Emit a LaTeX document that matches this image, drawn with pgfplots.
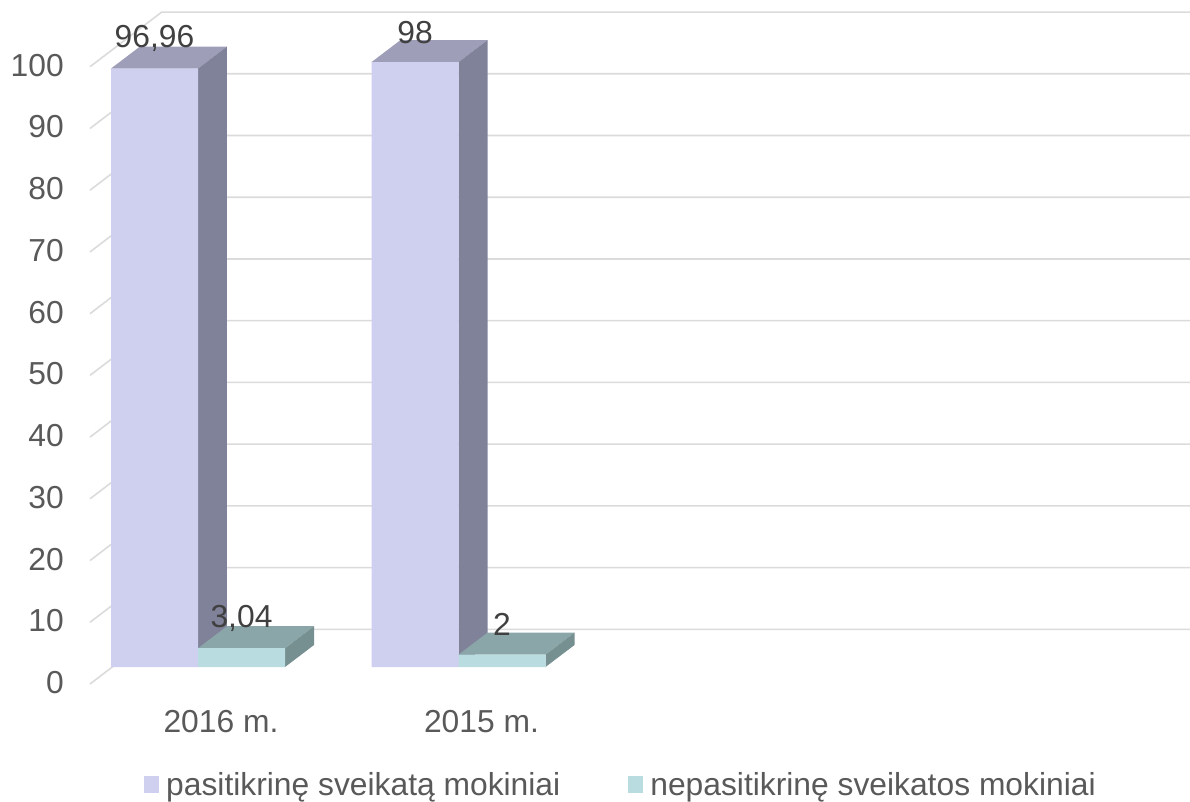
\documentclass[border=0pt]{standalone}
\usepackage{pgfplots}
\pgfplotsset{compat=1.18}
\usepackage{fontspec}
\setmainfont{Liberation Sans}

\definecolor{gridc}{HTML}{DBDBDB}
\definecolor{txt}{HTML}{595959}
\definecolor{lbl}{HTML}{404040}
\definecolor{vfront}{HTML}{CFD0F0}
\definecolor{vtop}{HTML}{9E9EB8}
\definecolor{vside}{HTML}{80829A}
\definecolor{tfront}{HTML}{B9DCE0}
\definecolor{ttop}{HTML}{8AA6A8}
\definecolor{tside}{HTML}{768F90}

\newcommand{\chartfont}{\fontsize{31.8}{36}\selectfont}

\begin{document}
\begin{tikzpicture}
  \path[use as bounding box] (0,0) rectangle (1190pt,801pt);
  \begin{axis}[
    at={(90pt,117pt)},
    anchor=south west,
    scale only axis,
    width=1100pt,
    height=672.5pt,
    clip=false,
    xmin=-0.4146, xmax=3.808,
    ymin=-2.754, ymax=106.2,
    axis line style={draw=none},
    tick style={draw=none},
    major tick length=0pt,
    unbounded coords=jump,
    xtick={0,1},
    xticklabels={2016 m.,2015 m.},
    ytick={0,10,...,100},
    /pgf/number format/assume math mode=true,
    tick label style={font=\chartfont, text=txt},
    xticklabel style={anchor=center, xshift=23pt, yshift=-38pt},
    yticklabel style={anchor=east, inner sep=0pt, xshift=-26pt, yshift=-15.5pt},
    legend image code/.code={\fill[#1] (0pt,-8pt) rectangle (15pt,9pt);},
    legend columns=2,
    legend style={
      at={(0.4827,-0.150)}, anchor=center, draw=none, fill=none,
      inner sep=0pt, font=\chartfont, text=txt,
      cells={anchor=west},
      /tikz/column 1/.style={column sep=5pt},
      /tikz/column 2/.style={column sep=66pt},
      /tikz/column 3/.style={column sep=5pt},
    },
    nodes near coords,
    point meta=y,
    every node near coord/.append style={
      font=\chartfont, text=lbl, anchor=center, yshift=30pt,
      /pgf/number format/use comma,
      /pgf/number format/assume math mode=true
    },
  ]
    % wall grid and the slanted tick lines in one path
    \addplot[gridc, line width=1.6pt, forget plot, nodes near coords=] coordinates {
      (-0.4146,-2.754) (-0.1393,6.107) (3.808,6.107) (nan,nan)
      (-0.4146,7.246) (-0.1393,16.107) (3.808,16.107) (nan,nan)
      (-0.4146,17.246) (-0.1393,26.107) (3.808,26.107) (nan,nan)
      (-0.4146,27.246) (-0.1393,36.107) (3.808,36.107) (nan,nan)
      (-0.4146,37.246) (-0.1393,46.107) (3.808,46.107) (nan,nan)
      (-0.4146,47.246) (-0.1393,56.107) (3.808,56.107) (nan,nan)
      (-0.4146,57.246) (-0.1393,66.107) (3.808,66.107) (nan,nan)
      (-0.4146,67.246) (-0.1393,76.107) (3.808,76.107) (nan,nan)
      (-0.4146,77.246) (-0.1393,86.107) (3.808,86.107) (nan,nan)
      (-0.4146,87.246) (-0.1393,96.107) (3.808,96.107) (nan,nan)
      (-0.4146,97.246) (-0.1393,106.107) (3.808,106.107)
    };

    % depth faces
    \addplot[fill=vtop, draw=none, forget plot, nodes near coords=] coordinates {(-0.334,96.96) (0,96.96) (0.1113,100.524) (-0.2227,100.524)} -- cycle;
    \addplot[fill=vside, draw=none, forget plot, nodes near coords=] coordinates {(0,0) (0.1113,3.564) (0.1113,100.524) (0,96.96)} -- cycle;
    \addplot[fill=vtop, draw=none, forget plot, nodes near coords=] coordinates {(0.666,98) (1,98) (1.1113,101.564) (0.7773,101.564)} -- cycle;
    \addplot[fill=vside, draw=none, forget plot, nodes near coords=] coordinates {(1,0) (1.1113,3.564) (1.1113,101.564) (1,98)} -- cycle;
    \addplot[fill=ttop, draw=none, forget plot, nodes near coords=] coordinates {(0,3.04) (0.334,3.04) (0.4453,6.604) (0.1113,6.604)} -- cycle;
    \addplot[fill=tside, draw=none, forget plot, nodes near coords=] coordinates {(0.334,0) (0.4453,3.564) (0.4453,6.604) (0.334,3.04)} -- cycle;
    \addplot[fill=ttop, draw=none, forget plot, nodes near coords=] coordinates {(1,2) (1.334,2) (1.4453,5.564) (1.1113,5.564)} -- cycle;
    \addplot[fill=tside, draw=none, forget plot, nodes near coords=] coordinates {(1.334,0) (1.4453,3.564) (1.4453,5.564) (1.334,2)} -- cycle;

    % front faces with the values
    \addplot[ybar, bar width=87pt, bar shift=-43.5pt, fill=vfront, draw=none, forget plot,
      every node near coord/.append style={xshift=-43.5pt}] coordinates {(0,96.96) (1,98)};
    \addplot[ybar, bar width=87pt, bar shift=43.5pt, fill=tfront, draw=none, forget plot,
      every node near coord/.append style={xshift=43.5pt}] coordinates {(0,3.04) (1,2)};

    \addlegendimage{fill=vfront, draw=none}
    \addlegendentry{pasitikrinę sveikatą mokiniai}
    \addlegendimage{fill=tfront, draw=none}
    \addlegendentry{nepasitikrinę sveikatos mokiniai}
  \end{axis}
\end{tikzpicture}
\end{document}
